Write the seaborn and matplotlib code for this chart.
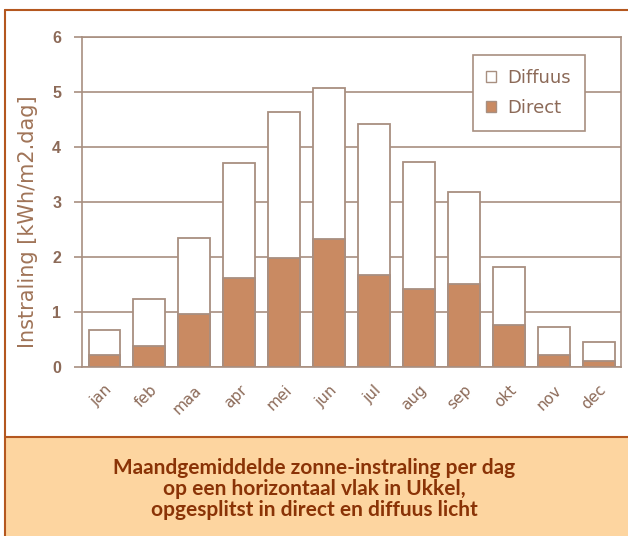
import pandas as pd
import matplotlib.pyplot as plt
import seaborn as sns
from matplotlib.patches import Rectangle, Patch
from matplotlib.lines import Line2D

# maandgemiddelde instraling (kWh/m2.dag)
maanden = ['jan', 'feb', 'maa', 'apr', 'mei', 'jun', 'jul', 'aug', 'sep', 'okt', 'nov', 'dec']
totaal = [0.67, 1.23, 2.35, 3.70, 4.64, 5.08, 4.41, 3.72, 3.18, 1.82, 0.73, 0.45]
direct = [0.21, 0.39, 0.96, 1.62, 1.98, 2.32, 1.67, 1.41, 1.50, 0.77, 0.21, 0.11]

df = pd.DataFrame({'maand': maanden, 'totaal': totaal, 'direct': direct})

sns.set_style("white")

lijn = '#a88f80'
tekst = '#8c6a58'
bruin = '#c98a62'

fig = plt.figure(figsize=(6.28, 5.36), dpi=100)
ax = fig.add_axes([0.1306, 0.3153, 0.8583, 0.6157])

# totaal (wit) met direct eroverheen
sns.barplot(x='maand', y='totaal', data=df, color='white', edgecolor=lijn,
            linewidth=1.3, width=0.71, saturation=1, ax=ax, zorder=3)
sns.barplot(x='maand', y='direct', data=df, color=bruin, edgecolor=lijn,
            linewidth=1.3, width=0.71, saturation=1, ax=ax, zorder=4)

ax.set_ylim(0, 6)
ax.set_xlim(-0.5, 11.5)
ax.set_yticks(range(0, 7))
ax.yaxis.grid(True, color=lijn, linewidth=1.2, zorder=0)
ax.set_axisbelow(True)

for s in ['left', 'right', 'top', 'bottom']:
    ax.spines[s].set_color(lijn)
    ax.spines[s].set_linewidth(1.2)

ax.set_xticks(range(12))
ax.set_xticklabels(maanden, rotation=45, ha='right', rotation_mode='anchor',
                   fontsize=11, color=tekst, family='DejaVu Sans')
ax.tick_params(axis='x', which='major', length=0, pad=11)
ax.set_xticks([i + 0.5 for i in range(-1, 11)], minor=True)
ax.tick_params(axis='x', which='minor', length=8, direction='inout', color=lijn, width=1.2)
ax.tick_params(axis='y', length=6, direction='out', color=lijn, width=1.2, pad=9,
               labelsize=11.5, labelcolor=tekst, left=True)
for t in ax.get_yticklabels():
    t.set_family('Liberation Sans')
    t.set_fontweight('bold')

ax.set_xlabel('')
ax.set_ylabel('Instraling [kWh/m2.dag]', fontsize=15, color='#a07458', family='DejaVu Sans')
ax.yaxis.set_label_coords(-0.082, 0.44)

handles = [Patch(facecolor='white', edgecolor=lijn, label='Diffuus'),
           Patch(facecolor=bruin, edgecolor=lijn, label='Direct')]
leg = ax.legend(handles=handles, loc='upper right', bbox_to_anchor=(0.933, 0.945),
                fancybox=False, framealpha=1, edgecolor=lijn, fontsize=13,
                handlelength=0.55, handleheight=0.55, handletextpad=0.65,
                borderpad=0.75, labelspacing=0.7, borderaxespad=0)
leg.get_frame().set_linewidth(1.2)
for t in leg.get_texts():
    t.set_color(tekst)
    t.set_family('DejaVu Sans')

# kader en onderschrift
fig.patches.append(Rectangle((0.0075, 0), 0.9925, 1 - 437 / 536, transform=fig.transFigure,
                             facecolor='#fdd5a0', edgecolor='none', zorder=0))
rand = '#b4571f'
fig.lines.append(Line2D([0.0075, 1], [1 - 10 / 536] * 2, transform=fig.transFigure, color=rand, lw=1.5))
fig.lines.append(Line2D([0.0075, 0.0075], [0, 1 - 10 / 536], transform=fig.transFigure, color=rand, lw=1.5))
fig.lines.append(Line2D([0.0075, 1], [1 - 437 / 536] * 2, transform=fig.transFigure, color=rand, lw=1.5))

fig.text(0.5, 1 - 489 / 536,
         'Maandgemiddelde zonne-instraling per dag\nop een horizontaal vlak in Ukkel,\nopgesplitst in direct en diffuus licht',
         ha='center', va='center', fontsize=15, fontweight='bold', color='#8a3306',
         family='Lato', linespacing=1.05)

fig.savefig('out.png', dpi=100)
